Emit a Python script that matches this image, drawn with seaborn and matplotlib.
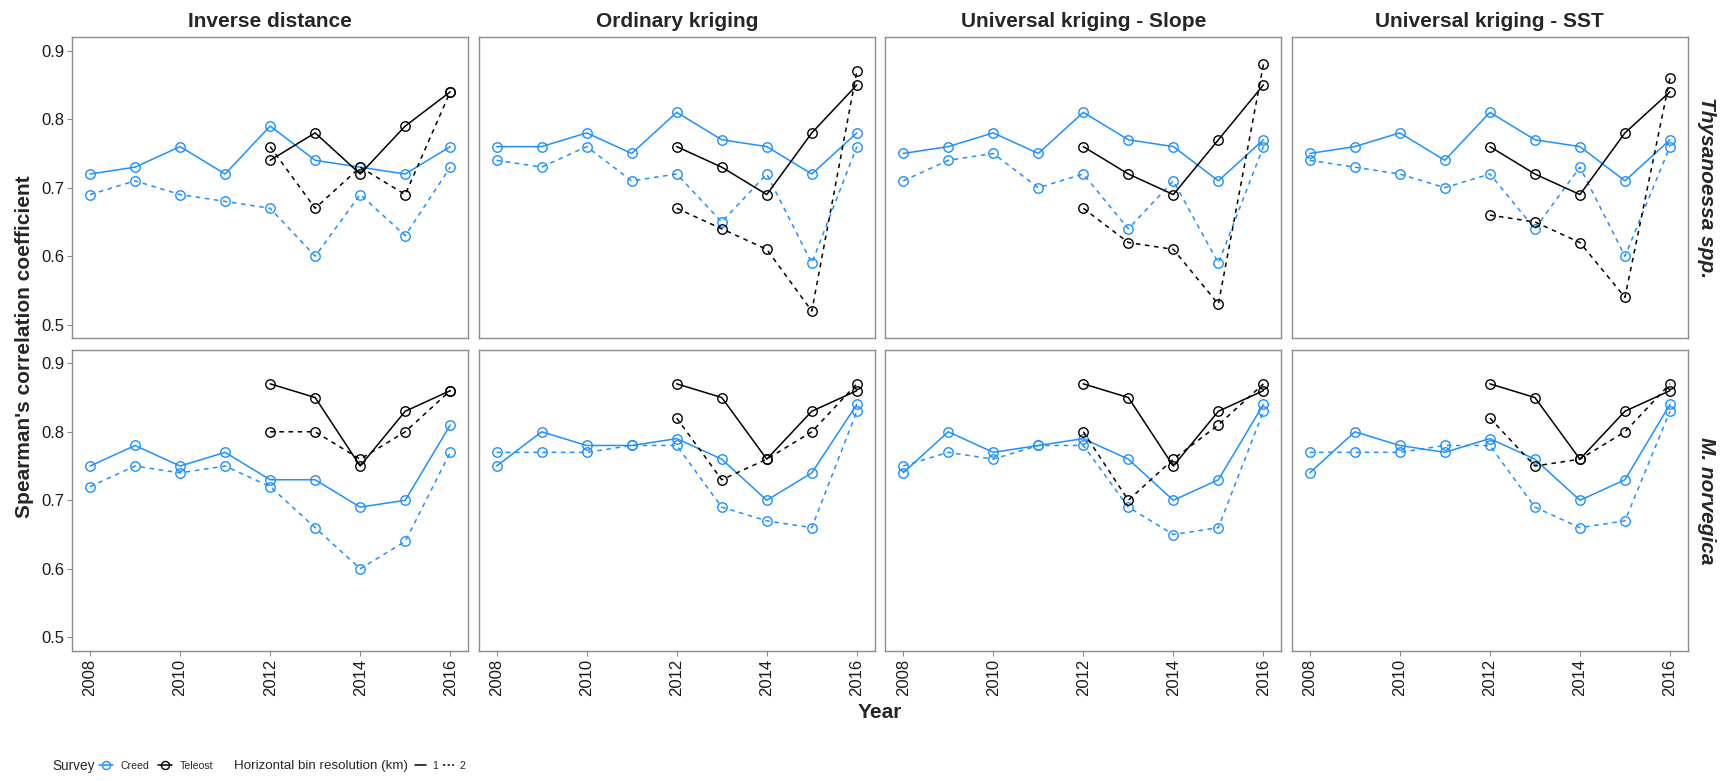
import matplotlib
matplotlib.use("Agg")
import matplotlib.pyplot as plt
from matplotlib.lines import Line2D
import pandas as pd
import seaborn as sns

# ---- data -------------------------------------------------------------
years = [2008, 2009, 2010, 2011, 2012, 2013, 2014, 2015, 2016]
teleost_years = [2012, 2013, 2014, 2015, 2016]
methods = ["Inverse distance", "Ordinary kriging",
           "Universal kriging - Slope", "Universal kriging - SST"]
species = ["Thysanoessa spp.", "M. norvegica"]

# Thysanoessa spp. (one row per interpolation method)
thy_creed_1km = [
    [0.72, 0.73, 0.76, 0.72, 0.79, 0.74, 0.73, 0.72, 0.76],
    [0.76, 0.76, 0.78, 0.75, 0.81, 0.77, 0.76, 0.72, 0.78],
    [0.75, 0.76, 0.78, 0.75, 0.81, 0.77, 0.76, 0.71, 0.77],
    [0.75, 0.76, 0.78, 0.74, 0.81, 0.77, 0.76, 0.71, 0.77],
]
thy_creed_2km = [
    [0.69, 0.71, 0.69, 0.68, 0.67, 0.60, 0.69, 0.63, 0.73],
    [0.74, 0.73, 0.76, 0.71, 0.72, 0.65, 0.72, 0.59, 0.76],
    [0.71, 0.74, 0.75, 0.70, 0.72, 0.64, 0.71, 0.59, 0.76],
    [0.74, 0.73, 0.72, 0.70, 0.72, 0.64, 0.73, 0.60, 0.76],
]
thy_teleost_1km = [
    [0.74, 0.78, 0.72, 0.79, 0.84],
    [0.76, 0.73, 0.69, 0.78, 0.85],
    [0.76, 0.72, 0.69, 0.77, 0.85],
    [0.76, 0.72, 0.69, 0.78, 0.84],
]
thy_teleost_2km = [
    [0.76, 0.67, 0.73, 0.69, 0.84],
    [0.67, 0.64, 0.61, 0.52, 0.87],
    [0.67, 0.62, 0.61, 0.53, 0.88],
    [0.66, 0.65, 0.62, 0.54, 0.86],
]

# M. norvegica
mn_creed_1km = [
    [0.75, 0.78, 0.75, 0.77, 0.73, 0.73, 0.69, 0.70, 0.81],
    [0.75, 0.80, 0.78, 0.78, 0.79, 0.76, 0.70, 0.74, 0.84],
    [0.74, 0.80, 0.77, 0.78, 0.79, 0.76, 0.70, 0.73, 0.84],
    [0.74, 0.80, 0.78, 0.77, 0.79, 0.76, 0.70, 0.73, 0.84],
]
mn_creed_2km = [
    [0.72, 0.75, 0.74, 0.75, 0.72, 0.66, 0.60, 0.64, 0.77],
    [0.77, 0.77, 0.77, 0.78, 0.78, 0.69, 0.67, 0.66, 0.83],
    [0.75, 0.77, 0.76, 0.78, 0.78, 0.69, 0.65, 0.66, 0.83],
    [0.77, 0.77, 0.77, 0.78, 0.78, 0.69, 0.66, 0.67, 0.83],
]
mn_teleost_1km = [
    [0.87, 0.85, 0.75, 0.83, 0.86],
    [0.87, 0.85, 0.76, 0.83, 0.86],
    [0.87, 0.85, 0.75, 0.83, 0.86],
    [0.87, 0.85, 0.76, 0.83, 0.86],
]
mn_teleost_2km = [
    [0.80, 0.80, 0.76, 0.80, 0.86],
    [0.82, 0.73, 0.76, 0.80, 0.87],
    [0.80, 0.70, 0.76, 0.81, 0.87],
    [0.82, 0.75, 0.76, 0.80, 0.87],
]

y_ticks = [0.5, 0.6, 0.7, 0.8, 0.9]
x_ticks = [2008, 2010, 2012, 2014, 2016]

# ---- long table --------------------------------------------------------
rows = []
series = [
    (species[0], "Creed", "1", years, thy_creed_1km),
    (species[0], "Creed", "2", years, thy_creed_2km),
    (species[0], "Teleost", "1", teleost_years, thy_teleost_1km),
    (species[0], "Teleost", "2", teleost_years, thy_teleost_2km),
    (species[1], "Creed", "1", years, mn_creed_1km),
    (species[1], "Creed", "2", years, mn_creed_2km),
    (species[1], "Teleost", "1", teleost_years, mn_teleost_1km),
    (species[1], "Teleost", "2", teleost_years, mn_teleost_2km),
]
for sp, survey, res, yrs, per_method in series:
    for method, vals in zip(methods, per_method):
        for yr, v in zip(yrs, vals):
            rows.append(dict(Species=sp, Method=method, Survey=survey,
                             Resolution=res, Year=yr, rho=v))
df = pd.DataFrame(rows)

# ---- styling -----------------------------------------------------------
sns.set_style("white")
plt.rcParams["font.family"] = ["Liberation Sans", "DejaVu Sans"]

BLUE = "#1E90FF"
palette = {"Creed": BLUE, "Teleost": "black"}
dash_map = {"1": "", "2": (3, 3)}
marker_map = {"1": "o", "2": "o"}
FRAME = "#8c8c8c"
LW, MS, MEW = 1.1, 6.8, 1.0

fig, axes = plt.subplots(2, 4, figsize=(17.28, 7.81), dpi=100,
                         sharex=True, sharey=True)
fig.subplots_adjust(left=72 / 1728, right=1688 / 1728,
                    top=1 - 37 / 781, bottom=1 - 651 / 781,
                    wspace=0.026, hspace=0.037)

for r, sp in enumerate(species):
    for c, method in enumerate(methods):
        ax = axes[r, c]
        sub = df[(df.Species == sp) & (df.Method == method)]
        sns.lineplot(data=sub, x="Year", y="rho", hue="Survey",
                     style="Resolution", palette=palette,
                     hue_order=["Creed", "Teleost"], style_order=["1", "2"],
                     dashes=dash_map, markers=marker_map,
                     estimator=None, errorbar=None, legend=False,
                     linewidth=LW, markersize=MS, ax=ax)
        for ln in ax.lines:
            ln.set_markerfacecolor("none")
            ln.set_markeredgecolor(ln.get_color())
            ln.set_markeredgewidth(MEW)

        ax.set_xlim(2007.6, 2016.4)
        ax.set_ylim(0.48, 0.92)
        ax.set_xticks(x_ticks)
        ax.set_yticks(y_ticks)
        ax.set_xlabel("")
        ax.set_ylabel("")
        for s in ax.spines.values():
            s.set_color(FRAME)
            s.set_linewidth(1.0)
        ax.tick_params(axis="both", which="both", length=3.5, width=0.8,
                       color=FRAME, labelsize=12, labelcolor="#1a1a1a",
                       direction="out", pad=2)
        ax.tick_params(axis="y", left=(c == 0), labelleft=(c == 0))
        ax.tick_params(axis="x", bottom=(r == 1), labelbottom=(r == 1),
                       labelrotation=90)
        if r == 0:
            ax.set_title(method, fontsize=15, fontweight="bold", pad=7)
        if c == 3:
            ax.text(1.046, 0.5, sp, transform=ax.transAxes, rotation=-90,
                    ha="center", va="center", fontsize=15,
                    fontweight="bold", fontstyle="italic")

fig.text(25 / 1728, 1 - 347 / 781, "Spearman's correlation coefficient",
         rotation=90, ha="center", va="center", fontsize=15,
         fontweight="bold")
fig.text(880 / 1728, 1 - 713 / 781, "Year", ha="center", va="center",
         fontsize=15, fontweight="bold")

# ---- bottom legends ----------------------------------------------------
ly = 1 - 766 / 781
fig.text(52 / 1728, ly, "Survey", ha="left", va="center", fontsize=9.8)
survey_handles = [
    Line2D([], [], color=BLUE, lw=LW, marker="o", mfc="none", mec=BLUE,
           ms=MS * 0.85, mew=MEW),
    Line2D([], [], color="black", lw=LW, marker="o", mfc="none",
           mec="black", ms=MS * 0.85, mew=MEW),
]
fig.legend(survey_handles, ["Creed", "Teleost"], loc="center left",
           bbox_to_anchor=(99 / 1728, ly), ncol=2, frameon=False,
           fontsize=7.6, handlelength=1.35, handletextpad=0.7,
           columnspacing=0.8, borderpad=0, borderaxespad=0)

fig.text(234 / 1728, ly, "Horizontal bin resolution (km)", ha="left",
         va="center", fontsize=9.6)
res_handles = [
    Line2D([], [], color="black", lw=LW),
    Line2D([], [], color="black", lw=LW, dashes=(1.5, 1.5)),
]
fig.legend(res_handles, ["1", "2"], loc="center left",
           bbox_to_anchor=(415 / 1728, ly), ncol=2, frameon=False,
           fontsize=7.6, handlelength=1.05, handletextpad=0.55,
           columnspacing=0.45, borderpad=0, borderaxespad=0)

fig.savefig("out.png", dpi=100)
